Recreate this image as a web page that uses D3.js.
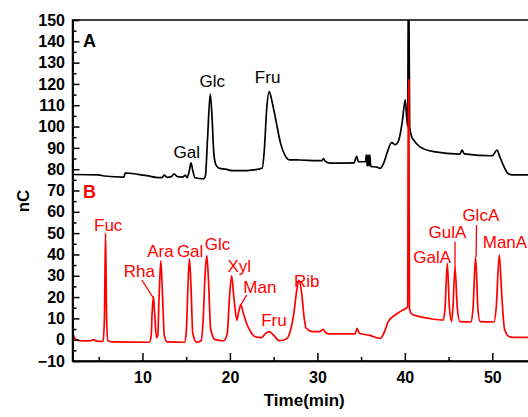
<!DOCTYPE html>
<html>
<head>
<meta charset="utf-8">
<script src="https://cdn.jsdelivr.net/npm/d3@7"></script>
<style>
html,body{margin:0;padding:0;background:#fff;overflow:hidden;}
svg{display:block;}
text{font-family:"Liberation Sans",Arial,sans-serif;}
</style>
</head>
<body>
<div id="chart"></div>
<script>
// ---- Data (time in min, response in nC) ----
const traceA = [
[2.0,77.5],[5.0,77.3],[5.6,76.8],[7.9,76.3],[8.0,78.2],[9.5,77.6],[10.5,77.0],[11.5,76.2],
[12.2,76.0],[12.5,77.2],[12.8,76.2],[13.3,76.5],[13.6,77.8],[14.0,76.5],[14.6,76.3],[14.9,77.2],
[15.1,76.0],[15.35,79.0],[15.55,83.0],[15.75,79.5],[16.0,76.0],[17.0,75.5],[17.2,77],[17.45,95],
[17.75,115.2],[17.95,105],[18.15,88],[18.4,82],[18.8,80.4],[19.5,80.0],[20.3,79.3],[21.5,79.3],
[22.5,79.6],[23.7,80.5],[23.95,90],[24.2,108],[24.5,116.4],[24.8,112],[25.3,102],[25.8,92],
[26.3,86.5],[26.8,84.4],[28,84.3],[30.5,84.0],[30.7,85.0],[30.9,83.8],[31.5,82.8],[34.2,83.0],
[34.5,86.0],[34.7,83.5],[35.5,83.5],[35.6,86.7],[35.7,81.5],[35.8,86.7],[35.9,81.5],[36.0,86.7],
[36.1,81.3],[36.8,81.0],[37.2,80.4],[37.6,83],[38.0,88],[38.5,92.5],[38.9,91.5],[39.3,93.5],
[39.7,102],[40.05,112.5],[40.2,105],[40.33,100],[40.4,165],[40.46,165],[40.55,100],[40.8,95],
[41.0,93.7],[41.7,90.6],[43.3,88.2],[46.3,87.1],[46.55,88.9],[46.8,87.2],[50.0,86.3],[50.55,89.0],
[50.8,86.5],[51.3,81.5],[51.8,78.0],[52.3,77.3],[55,77.3]
];
const traceB = [
[2.0,3.5],[2.3,0.5],[2.8,-0.5],[4.0,-0.6],[4.4,0.0],[4.8,-0.7],[5.5,-0.8],[5.65,10],[5.78,50],
[5.9,10],[6.05,-0.5],[6.5,-1.0],[10.8,-1.2],[11.0,2],[11.1,12],[11.25,20.2],[11.4,12],[11.6,1.0],
[11.75,2],[11.9,20],[12.1,37.1],[12.3,20],[12.5,2],[12.8,-1.0],[14.8,-1.2],[15.0,3],[15.2,25],
[15.37,37.9],[15.55,25],[15.75,3],[16.2,-1.2],[16.7,-0.5],[16.95,10],[17.15,30],[17.36,39.3],
[17.55,28],[17.8,5],[18.3,0],[19.3,-0.5],[19.7,3],[19.95,20],[20.2,30.0],[20.45,20],[20.8,9.2],
[21.0,13],[21.25,16.3],[21.5,13],[21.9,7.7],[22.4,3.5],[22.9,1.4],[23.6,1.0],[24.1,3],[24.5,3.8],
[24.9,2.5],[25.7,-0.5],[26.5,0.5],[26.9,4],[27.3,12],[27.6,22],[27.9,28.0],[28.2,22],[28.5,10],
[28.7,5.5],[29.5,3.8],[30.3,3.8],[30.65,4.9],[30.9,3.5],[31.4,2.7],[34.3,2.7],[34.55,5.3],
[34.8,3.0],[36.0,2.0],[37.2,0.6],[37.7,4.0],[38.1,8.5],[38.9,11.6],[39.6,13.5],[40.33,15.5],
[40.4,121.9],[40.46,121.9],[40.53,14.5],[40.8,12.0],[41.7,10.8],[43.0,9.8],[44.4,9.2],[44.6,15],
[44.86,35.8],[45.1,15],[45.35,8.5],[45.5,15],[45.74,34],[46.0,15],[46.3,8.5],[47.6,8.3],[47.8,15],
[48.1,38.7],[48.35,15],[48.6,8.5],[50.2,8.3],[50.45,15],[50.8,39.7],[51.1,20],[51.4,5],[51.9,1.5],
[52.4,1.1],[55,1.1]
];
// peak labels: [text, time, value] (label centre / baseline in data units)
const labelsA = [["Gal",15.07,85.3],["Glc",17.97,118.6],["Fru",24.31,120.5]];
const labelsB = [["Fuc",6.08,51.0],["Rha",9.65,29.4],["Ara",12.06,38.8],["Gal",15.45,38.8],
["Glc",18.57,42.1],["Xyl",21.07,31.8],["Man",23.42,21.9],["Fru",25.03,6.4],["Rib",28.79,24.7],
["GalA",43.13,36.0],["GulA",44.88,47.7],["GlcA",48.69,55.7],["ManA",51.45,43.0]];
// leader lines: [t1,v1,t2,v2]
const leaders = [[9.93,28,11.2,19.9],[21.93,21.0,21.17,15.8],[45.74,46,45.74,33.5],[48.2,53.8,48.15,38.8]];
const panels = [["A",3.2,137.3,"#000"],["B",3.2,66.4,"#ff0000"]];
const xTicks = [10,20,30,40,50];
const xMinor = [5,15,25,35,45,55];
const yTicks = d3.range(-10,151,10);
const yMinor = d3.range(-5,150,10);

// ---- Layout ----
const W = 528, H = 417;
const svg = d3.select("#chart").append("svg").attr("width",W).attr("height",H);
const x = d3.scaleLinear().domain([2,55]).range([72.5,536]);
const y = d3.scaleLinear().domain([-10,150]).range([361,20]);
const red = "#ff0000";

svg.append("clipPath").attr("id","clip").append("rect")
  .attr("x",x(2)).attr("y",y(150)).attr("width",x(55)-x(2)).attr("height",y(-10)-y(150));

const line = d3.line().x(d=>x(d[0])).y(d=>y(d[1])).curve(d3.curveMonotoneX);
const g = svg.append("g").attr("clip-path","url(#clip)");
g.append("path").datum(traceA).attr("d",line).attr("fill","none").attr("stroke","#000").attr("stroke-width",1.7).attr("stroke-linejoin","round");
g.append("path").datum(traceB).attr("d",line).attr("fill","none").attr("stroke",red).attr("stroke-width",1.7).attr("stroke-linejoin","round");

// frame
svg.append("rect").attr("x",x(2)).attr("y",y(150)).attr("width",x(55)-x(2)).attr("height",y(-10)-y(150))
  .attr("fill","none").attr("stroke","#000").attr("stroke-width",1.5);

// axes
const ax = svg.append("g").attr("transform",`translate(0,${y(-10)})`)
  .call(d3.axisBottom(x).tickValues(xTicks).tickSize(-8).tickSizeOuter(0).tickPadding(10.5));
const axm = svg.append("g").attr("transform",`translate(0,${y(-10)})`)
  .call(d3.axisBottom(x).tickValues(xMinor).tickSize(-4).tickSizeOuter(0).tickFormat(""));
const ay = svg.append("g").attr("transform",`translate(${x(2)},0)`)
  .call(d3.axisLeft(y).tickValues(yTicks).tickSize(-7).tickSizeOuter(0).tickPadding(7.5));
const aym = svg.append("g").attr("transform",`translate(${x(2)},0)`)
  .call(d3.axisLeft(y).tickValues(yMinor).tickSize(-4).tickSizeOuter(0).tickFormat(""));
[ax,axm,ay,aym].forEach(a=>{
  a.select(".domain").attr("stroke","#000").attr("stroke-width",1.5);
  a.selectAll(".tick line").attr("stroke","#000").attr("stroke-width",1.5);
  a.selectAll("text").attr("font-family","Liberation Sans, Arial, sans-serif")
   .attr("font-size",16).attr("font-weight","bold").attr("fill","#000");
});

// axis titles
svg.append("text").attr("x",(x(2)+x(55))/2).attr("y",406).attr("text-anchor","middle")
  .attr("font-size",17).attr("font-weight","bold").text("Time(min)");
svg.append("text").attr("transform","translate(29,201) rotate(-90)").attr("text-anchor","middle")
  .attr("font-size",17).attr("font-weight","bold").text("nC");

// panel letters
svg.selectAll(".panel").data(panels).enter().append("text")
  .attr("x",d=>x(d[1])).attr("y",d=>y(d[2])).attr("fill",d=>d[3])
  .attr("font-size",18).attr("font-weight","bold").text(d=>d[0]);

// peak labels
svg.selectAll(".la").data(labelsA).enter().append("text")
  .attr("x",d=>x(d[1])).attr("y",d=>y(d[2])).attr("text-anchor","middle")
  .attr("font-size",17).attr("fill","#000").text(d=>d[0]);
svg.selectAll(".lb").data(labelsB).enter().append("text")
  .attr("x",d=>x(d[1])).attr("y",d=>y(d[2])).attr("text-anchor","middle")
  .attr("font-size",17).attr("fill",red).text(d=>d[0]);
svg.selectAll(".ld").data(leaders).enter().append("line")
  .attr("x1",d=>x(d[0])).attr("y1",d=>y(d[1])).attr("x2",d=>x(d[2])).attr("y2",d=>y(d[3]))
  .attr("stroke",red).attr("stroke-width",1.3);
</script>
</body>
</html>
